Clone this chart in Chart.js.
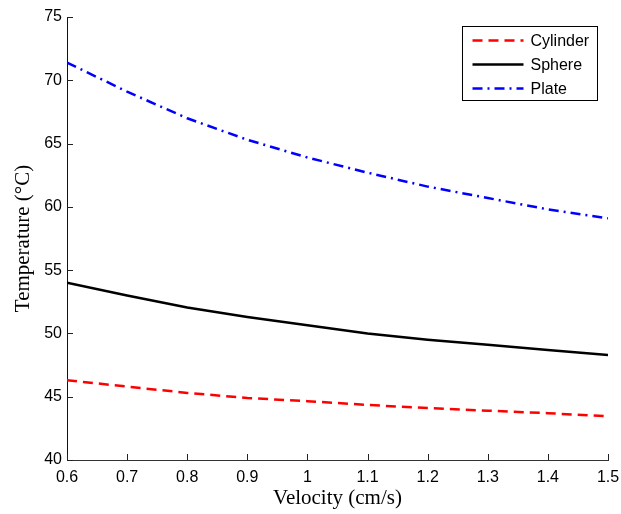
<!DOCTYPE html>
<html>
<head>
<meta charset="utf-8">
<script src="https://cdn.jsdelivr.net/npm/chart.js@4.4.1/dist/chart.umd.min.js"></script>
<style>
  html, body { margin: 0; padding: 0; background: #fff; }
  #wrap { width: 621px; height: 514px; }
</style>
</head>
<body>
<div id="wrap"><canvas id="temps" width="621" height="514"></canvas></div>
<script>
// velocity samples (cm/s) and temperatures (deg C) per geometry
const velocity = [0.6, 0.7, 0.8, 0.9, 1.0, 1.1, 1.2, 1.3, 1.4, 1.5];
const cylinder = [46.3, 45.8, 45.3, 44.9, 44.65, 44.35, 44.1, 43.9, 43.7, 43.45];
const sphere   = [54.0, 53.0, 52.05, 51.3, 50.65, 50.0, 49.5, 49.1, 48.7, 48.3];
const plate    = [71.4, 69.1, 67.0, 65.3, 63.9, 62.7, 61.6, 60.7, 59.8, 59.1];

const seriesNames = ['Cylinder', 'Sphere', 'Plate'];
const xTicks = [0.6, 0.7, 0.8, 0.9, 1.0, 1.1, 1.2, 1.3, 1.4, 1.5];
const yTicks = [40, 45, 50, 55, 60, 65, 70, 75];

const sansFont = "'Liberation Sans', Arial, sans-serif";
const serifFont = "'Liberation Serif', 'DejaVu Serif', serif";

const toPoints = ys => velocity.map((v, i) => ({ x: v, y: ys[i] }));

// small tick marks pointing into the plot, like a matlab axes
const inwardTicks = {
    id: 'inwardTicks',
    afterDraw(chart) {
        const { ctx, chartArea, scales } = chart;
        ctx.save();
        ctx.strokeStyle = '#222';
        ctx.lineWidth = 1;
        ctx.beginPath();
        xTicks.forEach(t => {
            const px = Math.round(scales.x.getPixelForValue(t)) + 0.5;
            ctx.moveTo(px, chartArea.bottom);
            ctx.lineTo(px, chartArea.bottom - 6);
        });
        yTicks.forEach(t => {
            const py = Math.round(scales.y.getPixelForValue(t)) + 0.5;
            ctx.moveTo(chartArea.left, py);
            ctx.lineTo(chartArea.left + 6, py);
        });
        ctx.stroke();
        ctx.restore();
    }
};

// boxed legend in the upper right corner of the axes
const boxLegend = {
    id: 'boxLegend',
    afterDraw(chart) {
        const { ctx, chartArea } = chart;
        const w = 135, h = 74;
        const x0 = Math.round(chartArea.right - 11 - w) + 0.5;
        const y0 = Math.round(chartArea.top + 9) + 0.5;
        ctx.save();
        ctx.fillStyle = '#fff';
        ctx.fillRect(x0, y0, w, h);
        ctx.strokeStyle = '#000';
        ctx.lineWidth = 1;
        ctx.strokeRect(x0, y0, w, h);
        ctx.font = '16px ' + sansFont;
        ctx.textBaseline = 'middle';
        chart.data.datasets.forEach((ds, i) => {
            const y = y0 + 14 + i * 24;
            ctx.strokeStyle = ds.borderColor;
            ctx.lineWidth = ds.borderWidth;
            ctx.setLineDash(ds.borderDash || []);
            ctx.beginPath();
            ctx.moveTo(x0 + 10, y);
            ctx.lineTo(x0 + 61, y);
            ctx.stroke();
            ctx.setLineDash([]);
            ctx.fillStyle = '#000';
            ctx.fillText(ds.label, x0 + 68, y + 1);
        });
        ctx.restore();
    }
};

new Chart(document.getElementById('temps'), {
    type: 'line',
    data: {
        datasets: [
            {
                label: seriesNames[0],
                data: toPoints(cylinder),
                borderColor: '#ff0000',
                borderWidth: 2.5,
                borderDash: [10, 6],
                pointRadius: 0,
                tension: 0
            },
            {
                label: seriesNames[1],
                data: toPoints(sphere),
                borderColor: '#000000',
                borderWidth: 2.5,
                pointRadius: 0,
                tension: 0
            },
            {
                label: seriesNames[2],
                data: toPoints(plate),
                borderColor: '#0000ff',
                borderWidth: 2.5,
                borderDash: [10, 5, 2, 5],
                pointRadius: 0,
                tension: 0
            }
        ]
    },
    options: {
        responsive: false,
        animation: false,
        layout: {
            padding: { top: 17, right: 13, left: 0, bottom: 0 }
        },
        scales: {
            x: {
                type: 'linear',
                min: 0.6,
                max: 1.5,
                afterFit: scale => {
                    scale.height = 54;
                    // keep the end labels from shrinking the plot area
                    scale.paddingLeft = 0;
                    scale.paddingRight = 0;
                },
                afterBuildTicks: scale => {
                    scale.ticks = xTicks.map(v => ({ value: v }));
                },
                ticks: {
                    color: '#000',
                    font: { family: sansFont, size: 16 },
                    padding: 8,
                    maxRotation: 0,
                    callback: v => String(Number(v.toFixed(1)))
                },
                grid: { display: false, drawTicks: false },
                border: { display: true, color: '#333', width: 1 },
                title: {
                    display: true,
                    text: 'Velocity (cm/s)',
                    color: '#000',
                    font: { family: serifFont, size: 21 },
                    padding: { top: 0, bottom: 3 }
                }
            },
            y: {
                min: 40,
                max: 75,
                afterFit: scale => {
                    scale.width = 67;
                    scale.paddingTop = 0;
                    scale.paddingBottom = 0;
                },
                afterBuildTicks: scale => {
                    scale.ticks = yTicks.map(v => ({ value: v }));
                },
                ticks: {
                    color: '#000',
                    font: { family: sansFont, size: 16 },
                    padding: 5
                },
                grid: { display: false, drawTicks: false },
                border: { display: true, color: '#111', width: 1 },
                title: {
                    display: true,
                    text: 'Temperature (°C)',
                    color: '#000',
                    font: { family: serifFont, size: 21 },
                    padding: { top: 11, bottom: 0 }
                }
            }
        },
        plugins: {
            legend: { display: false },
            tooltip: { enabled: false }
        }
    },
    plugins: [inwardTicks, boxLegend]
});
</script>
</body>
</html>
